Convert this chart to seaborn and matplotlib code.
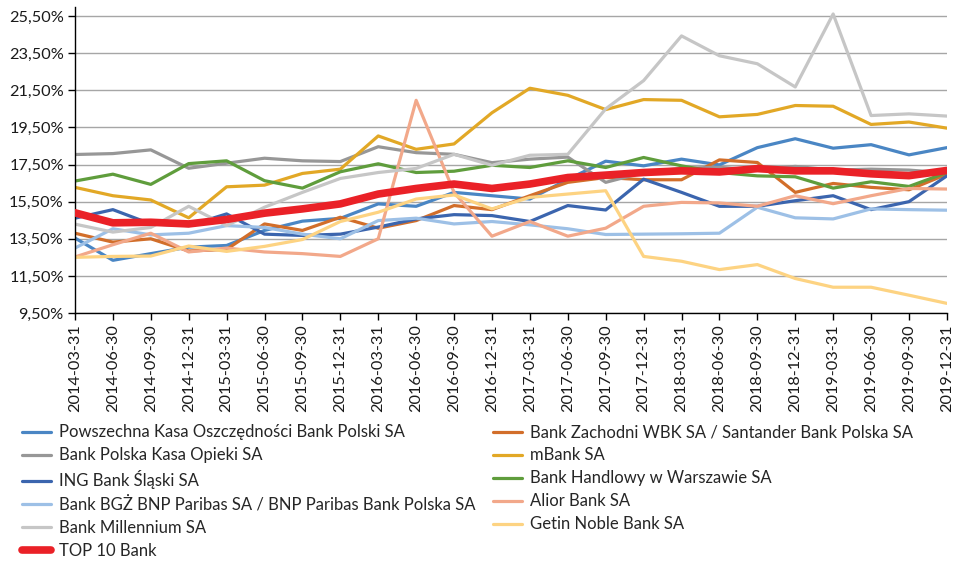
import numpy as np
import pandas as pd
import matplotlib
matplotlib.use("Agg")
import matplotlib.pyplot as plt
import seaborn as sns
from matplotlib.ticker import FuncFormatter

# ---------------------------------------------------------------------------
# Data (values in %)
# ---------------------------------------------------------------------------
quarters = [
    "2014-03-31", "2014-06-30", "2014-09-30", "2014-12-31",
    "2015-03-31", "2015-06-30", "2015-09-30", "2015-12-31",
    "2016-03-31", "2016-06-30", "2016-09-30", "2016-12-31",
    "2017-03-31", "2017-06-30", "2017-09-30", "2017-12-31",
    "2018-03-31", "2018-06-30", "2018-09-30", "2018-12-31",
    "2019-03-31", "2019-06-30", "2019-09-30", "2019-12-31",
]

pko = [13.54, 12.34, 12.70, 13.05, 13.14, 13.95, 14.45, 14.60, 15.38, 15.25, 16.00, 15.82,
       15.64, 16.70, 17.68, 17.43, 17.79, 17.48, 18.41, 18.89, 18.38, 18.57, 18.02, 18.41]
santander = [13.80, 13.32, 13.50, 12.84, 12.93, 14.30, 13.95, 14.66, 14.07, 14.48, 15.29, 15.07,
             15.82, 16.54, 16.80, 16.68, 16.68, 17.75, 17.61, 16.00, 16.48, 16.27, 16.14, 16.98]
pekao = [18.04, 18.09, 18.29, 17.30, 17.57, 17.84, 17.70, 17.66, 18.46, 18.14, 18.05, 17.60,
         17.79, 17.90, 16.54, 17.07, 17.30, 17.35, 17.20, 17.40, 17.20, 17.25, 17.20, 17.05]
mbank = [16.27, 15.82, 15.59, 14.63, 16.30, 16.39, 17.02, 17.25, 19.04, 18.32, 18.61, 20.29,
         21.61, 21.23, 20.46, 21.00, 20.96, 20.07, 20.20, 20.68, 20.64, 19.66, 19.79, 19.46]
ing = [14.61, 15.07, 14.30, 14.21, 14.84, 13.75, 13.68, 13.75, 14.13, 14.57, 14.80, 14.75,
       14.43, 15.29, 15.05, 16.71, 16.00, 15.25, 15.25, 15.55, 15.82, 15.07, 15.50, 16.89]
handlowy = [16.61, 16.98, 16.43, 17.55, 17.70, 16.63, 16.23, 17.11, 17.54, 17.07, 17.14, 17.46,
            17.34, 17.70, 17.34, 17.88, 17.43, 17.07, 16.89, 16.84, 16.23, 16.57, 16.32, 17.07]
bgz = [13.00, 14.04, 13.71, 13.80, 14.21, 14.11, 13.75, 13.50, 14.48, 14.61, 14.30, 14.43,
       14.25, 14.04, 13.73, 13.75, 13.77, 13.80, 15.20, 14.63, 14.57, 15.11, 15.07, 15.04]
alior = [12.52, 13.18, 13.80, 12.79, 13.00, 12.79, 12.70, 12.55, 13.50, 20.96, 16.00, 13.64,
         14.43, 13.64, 14.07, 15.25, 15.46, 15.43, 15.25, 15.82, 15.39, 15.82, 16.21, 16.18]
millennium = [14.29, 13.86, 14.11, 15.25, 14.21, 15.20, 16.00, 16.75, 17.07, 17.29, 18.05, 17.46,
              18.00, 18.05, 20.50, 22.02, 24.43, 23.36, 22.93, 21.68, 25.61, 20.14, 20.23, 20.11]
getin = [12.50, 12.55, 12.57, 13.11, 12.82, 13.09, 13.46, 14.43, 14.93, 15.64, 15.86, 15.11,
         15.73, 15.91, 16.09, 12.55, 12.29, 11.84, 12.11, 11.36, 10.89, 10.89, 10.46, 10.02]
top10 = [14.90, 14.36, 14.39, 14.30, 14.54, 14.88, 15.11, 15.38, 15.91, 16.21, 16.45, 16.21,
         16.45, 16.80, 16.93, 17.07, 17.16, 17.10, 17.28, 17.16, 17.16, 17.00, 16.90, 17.18]

series = [
    ("Powszechna Kasa Oszczędności Bank Polski SA", pko, "#4a86c4", 2.3),
    ("Bank Zachodni WBK SA / Santander Bank Polska SA", santander, "#d26e2a", 2.3),
    ("Bank Polska Kasa Opieki SA", pekao, "#979797", 2.3),
    ("mBank SA", mbank, "#e2a826", 2.3),
    ("ING Bank Śląski SA", ing, "#3b65ae", 2.3),
    ("Bank Handlowy w Warszawie SA", handlowy, "#5f9d3c", 2.3),
    ("Bank BGŻ BNP Paribas SA / BNP Paribas Bank Polska SA", bgz, "#9dc0e6", 2.3),
    ("Alior Bank SA", alior, "#f2a88a", 2.3),
    ("Bank Millennium SA", millennium, "#c6c6c6", 2.3),
    ("Getin Noble Bank SA", getin, "#fdd382", 2.3),
    ("TOP 10 Bank", top10, "#ea2127", 5.5),
]

# ---------------------------------------------------------------------------
# Plot
# ---------------------------------------------------------------------------
sns.set_theme(style="white")
plt.rcParams["font.family"] = ["Lato", "DejaVu Sans"]

fig = plt.figure(figsize=(9.55, 5.63), dpi=100)
ax = fig.add_axes([0.0785, 0.444, 0.913, 0.544])

handles = {}
for name, vals, color, lw in series:
    sns.lineplot(x=quarters, y=vals, ax=ax, color=color, linewidth=lw,
                 label=name, sort=False, zorder=3 if lw > 3 else 2)
    handles[name] = ax.get_lines()[-1]

ax.set_xlim(0, len(quarters) - 1)
ax.set_ylim(9.5, 26.0)
ax.set_yticks(np.arange(9.5, 25.6, 2.0))
ax.yaxis.set_major_formatter(FuncFormatter(lambda v, p: f"{v:.2f}%".replace(".", ",")))
ax.yaxis.grid(True, color="#a6a6a6", linewidth=1.0)
ax.set_axisbelow(True)
ax.set_xlabel("")
ax.set_ylabel("")

for s in ["top", "right"]:
    ax.spines[s].set_visible(False)
for s in ["left", "bottom"]:
    ax.spines[s].set_color("black")
    ax.spines[s].set_linewidth(1.0)

ax.tick_params(axis="both", which="major", direction="out", length=5, width=1,
               color="black", labelsize=11.7, labelcolor="#1a1a1a", pad=3,
               left=True, bottom=True)
plt.setp(ax.get_xticklabels(), rotation=90)

ax.get_legend().remove()
order = [0, 2, 4, 6, 8, 10, 1, 3, 5, 7, 9]
leg_handles = [handles[series[i][0]] for i in order]
leg_labels = [series[i][0] for i in order]
fig.legend(leg_handles, leg_labels, loc="upper left", bbox_to_anchor=(0.016, 0.258),
           ncol=2, frameon=False, fontsize=12, handlelength=1.75, handletextpad=0.5,
           labelspacing=0.42, columnspacing=1.0, borderaxespad=0)

fig.savefig("out.png", dpi=100)
